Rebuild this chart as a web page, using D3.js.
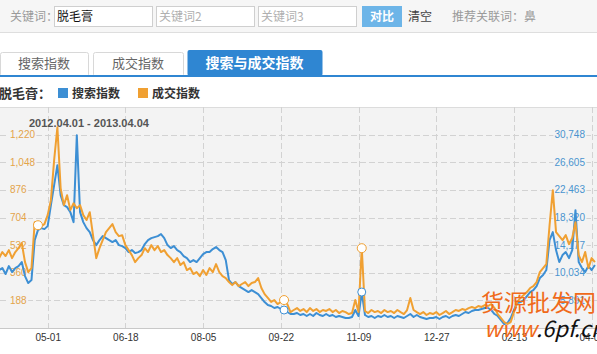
<!DOCTYPE html>
<html lang="zh">
<head>
<meta charset="UTF-8">
<title>脱毛膏 搜索与成交指数</title>
<script src="https://d3js.org/d3.v7.min.js"></script>
<style>
  body { margin: 0; background: #fff; overflow: hidden; }
  text { font-family: "Noto Sans CJK SC", "Liberation Sans", sans-serif; }
  .num { font-family: "Liberation Sans", Arial, sans-serif; }
</style>
</head>
<body>
<div id="chart"></div>
<script>
// one point every 2 days, starting 2012-04-01
const startDay = "2012-04-01";
const stepDays = 2;

// 成交指数 (left axis, orange)
const dealIndex = [
  451, 489, 464, 501, 451, 489, 513, 545, 426, 364, 389, 675, 656, 650, 663, 719,
  812, 1061, 1266, 887, 781, 843, 750, 793, 762, 781, 719, 688, 737, 594, 451, 513,
  563, 613, 638, 663, 613, 588, 594, 532, 501, 470, 426, 451, 470, 513, 489, 532,
  501, 526, 489, 501, 470, 451, 426, 451, 408, 426, 377, 389, 352, 364, 339, 377,
  346, 389, 364, 414, 364, 339, 327, 302, 283, 302, 277, 290, 302, 277, 296, 302,
  327, 265, 227, 203, 178, 190, 165, 178, 190, 165, 115, 128, 140, 122, 134, 115,
  140, 122, 134, 115, 128, 122, 134, 115, 128, 109, 122, 115, 103, 109, 190, 115,
  513, 122, 109, 128, 115, 122, 109, 128, 115, 122, 109, 128, 115, 103, 128, 203,
  128, 115, 103, 115, 97, 109, 103, 115, 97, 109, 122, 103, 115, 128, 122, 134,
  128, 140, 147, 140, 153, 147, 159, 153, 165, 140, 103, 78, 53, 41, 53, 115,
  178, 203, 221, 240, 265, 277, 302, 364, 389, 414, 656, 874, 613, 588, 563, 594,
  538, 576, 675, 470, 426, 489, 389, 451, 426
];

// 搜索指数 (right axis, blue)
const searchIndex = [
  10436, 10736, 9837, 11036, 10137, 10736, 11036, 11635, 9538, 8489, 8938, 14930, 16428, 16728, 16578, 17028,
  20173, 23169, 26165, 21671, 20173, 19874, 19125, 17627, 30659, 19125, 17627, 16728, 16129, 14930, 14181, 14930,
  15530, 15230, 14930, 14631, 14930, 14181, 14032, 13732, 13133, 13432, 12983, 13133, 13432, 14331, 14930, 15230,
  15380, 15530, 15829, 15230, 14181, 13732, 14032, 13432, 13133, 12534, 12234, 11635, 11934, 11635, 12234, 12833,
  13133, 13133, 13582, 13882, 13432, 13133, 11934, 8938, 8339, 8639, 8040, 7740, 7440, 7141, 7440, 7141,
  6841, 6242, 5643, 5193, 5044, 4744, 4894, 4594, 4444, 4145, 3845, 3845, 3995, 3695, 3845, 3546,
  3845, 3546, 3995, 3695, 3546, 3845, 3546, 3695, 3396, 3546, 3396, 3246, 3246, 3396, 4444, 3546,
  7141, 3695, 3396, 3546, 3246, 3546, 3396, 3695, 3396, 3546, 3246, 3546, 3396, 3246, 3546, 3845,
  3396, 3695, 3396, 3246, 3096, 3246, 3246, 3396, 3096, 3396, 3546, 3246, 3546, 3695, 3546, 3845,
  4145, 3995, 4295, 4444, 4444, 4594, 4744, 4744, 4444, 3845, 3546, 2946, 2347, 2497, 3246, 4444,
  5493, 5643, 5942, 6542, 7141, 7440, 8040, 9238, 9687, 10436, 14930, 16129, 13432, 11635, 12683, 13133,
  12234, 13432, 19424, 11635, 10736, 10137, 11036, 10436, 11185
];

// points that carry an event marker (index into the series)
const dealMarkers = [12, 88, 112];
const searchMarkers = [88, 112];

const xTickDates = ["2012-05-01", "2012-06-18", "2012-08-05", "2012-09-22", "2012-11-09", "2012-12-27", "2013-02-13", "2013-04-02"];
const leftTicks = [188, 360, 532, 704, 876, 1048, 1220];
const rightTicks = [5891, 10034, 14177, 18320, 22463, 26605, 30748];
const leftDomain = [16, 1392];
const rightDomain = [1748, 34891];
const dateRange = ["2012-04-01", "2013-04-04"];

const W = 597, H = 354;
const orange = "#f0a032", blue = "#3d8fd4";
const plot = { top: 107, bottom: 328 };

const parse = d3.timeParse("%Y-%m-%d");
const start = parse(startDay);
const data = dealIndex.map((v, i) => ({
  date: d3.timeDay.offset(start, i * stepDays),
  deal: v,
  search: searchIndex[i]
}));

const svg = d3.select("#chart").append("svg")
  .attr("width", W).attr("height", H);

// ---- search bar on top ----
svg.append("rect").attr("x", 0).attr("y", 0).attr("width", W).attr("height", 32).attr("fill", "#f6f6f6");
svg.append("line").attr("x1", 0).attr("x2", W).attr("y1", 32.5).attr("y2", 32.5).attr("stroke", "#dedede");
svg.append("text").attr("x", 10).attr("y", 21).attr("font-size", 12).attr("fill", "#9a9a9a").text("关键词：");
const inputs = [["脱毛膏", 54, "#111"], ["关键词2", 156, "#b0b0b0"], ["关键词3", 258, "#b0b0b0"]];
inputs.forEach(([t, x, c]) => {
  svg.append("rect").attr("x", x + 0.5).attr("y", 6.5).attr("width", 98).attr("height", 20)
    .attr("fill", "#fff").attr("stroke", "#cfcfcf");
  svg.append("text").attr("x", x + 3).attr("y", 21).attr("font-size", 12).attr("fill", c).text(t);
});
svg.append("rect").attr("x", 362).attr("y", 6).attr("width", 40).attr("height", 21).attr("fill", "#6db5e8");
svg.append("text").attr("x", 382).attr("y", 21).attr("text-anchor", "middle").attr("font-size", 12)
  .attr("font-weight", "bold").attr("fill", "#fff").text("对比");
svg.append("text").attr("x", 408).attr("y", 21).attr("font-size", 12).attr("fill", "#444").text("清空");
svg.append("text").attr("x", 452).attr("y", 21).attr("font-size", 12).attr("fill", "#9a9a9a").text("推荐关联词：鼻");

// ---- tabs ----
const tabs = [["搜索指数", 0, 88, false], ["成交指数", 93, 90, false], ["搜索与成交指数", 187, 135, true]];
tabs.forEach(([t, x, w, active]) => {
  svg.append("rect").attr("x", x + 0.5).attr("y", active ? 50 : 52.5).attr("width", w).attr("height", active ? 26 : 24)
    .attr("rx", 2).attr("fill", active ? "#2f86d2" : "#fff").attr("stroke", active ? "none" : "#d8d8d8");
  svg.append("text").attr("x", x + w / 2).attr("y", 68).attr("text-anchor", "middle")
    .attr("font-size", active ? 14 : 13).attr("font-weight", active ? "bold" : "normal")
    .attr("fill", active ? "#fff" : "#666").text(t);
});
svg.append("rect").attr("x", 0).attr("y", 75).attr("width", W).attr("height", 2).attr("fill", "#2f86d2");

// ---- legend ----
svg.append("text").attr("x", -1).attr("y", 98).attr("font-size", 13).attr("font-weight", "bold").attr("fill", "#333").text("脱毛膏：");
[["搜索指数", 58, blue], ["成交指数", 138, orange]].forEach(([t, x, c]) => {
  svg.append("rect").attr("x", x).attr("y", 88).attr("width", 10).attr("height", 10).attr("fill", c);
  svg.append("text").attr("x", x + 14).attr("y", 98).attr("font-size", 12).attr("font-weight", "bold").attr("fill", "#333").text(t);
});

// ---- scales ----
const x = d3.scaleTime().domain(dateRange.map(parse)).range([-0.9, 594.9]);
const yL = d3.scaleLinear().domain(leftDomain).range([plot.bottom, plot.top]);
const yR = d3.scaleLinear().domain(rightDomain).range([plot.bottom, plot.top]);

// plot background
svg.append("rect").attr("x", 0).attr("y", plot.top).attr("width", W).attr("height", plot.bottom - plot.top)
  .attr("fill", "#f3f3f3");
svg.append("line").attr("x1", 0).attr("x2", W).attr("y1", plot.top + 0.5).attr("y2", plot.top + 0.5).attr("stroke", "#dcdcdc");

// grid
const grid = svg.append("g").attr("stroke", "#d2d2d2").attr("stroke-dasharray", "6,3");
grid.selectAll("line.h").data(leftTicks).join("line").attr("class", "h")
  .attr("x1", 0).attr("x2", W).attr("y1", d => Math.round(yL(d)) + 0.5).attr("y2", d => Math.round(yL(d)) + 0.5);
grid.selectAll("line.v").data(xTickDates.map(parse)).join("line").attr("class", "v")
  .attr("x1", d => Math.round(x(d)) + 0.5).attr("x2", d => Math.round(x(d)) + 0.5)
  .attr("y1", plot.top).attr("y2", plot.bottom);

// x axis
const xAxis = svg.append("g").attr("transform", `translate(0,${plot.bottom})`)
  .call(d3.axisBottom(x).tickValues(xTickDates.map(parse)).tickFormat(d3.timeFormat("%m-%d")).tickSize(0).tickPadding(6));
xAxis.select(".domain").attr("stroke", "#c8c8c8").attr("d", `M0,0.5H${W}`);
xAxis.selectAll("text").attr("class", "num").attr("font-size", 10).attr("fill", "#333");

// axis labels inside the plot
function sideLabels(ticks, scale, color, anchor, xpos) {
  const g = svg.append("g");
  ticks.forEach(v => {
    const t = g.append("text").attr("class", "num").attr("x", xpos).attr("y", scale(v) + 3.5)
      .attr("text-anchor", anchor).attr("font-size", 10).attr("fill", color).text(d3.format(",")(v));
    const b = t.node().getBBox();
    g.insert("rect", "text").attr("x", b.x - 1).attr("y", scale(v) - 2).attr("width", b.width + 2).attr("height", 4)
      .attr("fill", "#f3f3f3");
  });
}
sideLabels(leftTicks, yL, "#e3a34a", "start", 10);
sideLabels(rightTicks, yR, "#4a94cf", "end", 585);

// date range caption
svg.append("text").attr("class", "num").attr("x", 29).attr("y", 127).attr("font-size", 11).attr("font-weight", "bold")
  .attr("fill", "#555").text("2012.04.01 - 2013.04.04");

// ---- lines ----
svg.append("clipPath").attr("id", "clip").append("rect")
  .attr("x", 0).attr("y", plot.top).attr("width", W).attr("height", plot.bottom - plot.top);
const lines = svg.append("g").attr("clip-path", "url(#clip)");
lines.append("path").datum(data).attr("fill", "none").attr("stroke", blue).attr("stroke-width", 2)
  .attr("stroke-linejoin", "round")
  .attr("d", d3.line().x(d => x(d.date)).y(d => yR(d.search)));
lines.append("path").datum(data).attr("fill", "none").attr("stroke", orange).attr("stroke-width", 2)
  .attr("stroke-linejoin", "round")
  .attr("d", d3.line().x(d => x(d.date)).y(d => yL(d.deal)));

lines.selectAll("circle.s").data(searchMarkers.map(i => data[i])).join("circle").attr("class", "s")
  .attr("cx", d => x(d.date)).attr("cy", d => yR(d.search)).attr("r", 4)
  .attr("fill", "#fff").attr("stroke", blue).attr("stroke-width", 1);
lines.selectAll("circle.d").data(dealMarkers.map(i => data[i])).join("circle").attr("class", "d")
  .attr("cx", d => x(d.date)).attr("cy", d => yL(d.deal)).attr("r", 4.5)
  .attr("fill", "#fff").attr("stroke", orange).attr("stroke-width", 1);

// ---- watermark ----
svg.append("text").attr("x", 481).attr("y", 311).attr("font-size", 23).attr("fill", "#f06a1a").text("货源批发网");
const wm = svg.append("text").attr("x", 484).attr("y", 337).attr("font-size", 22).attr("font-style", "italic");
wm.append("tspan").attr("fill", "#f06a1a").text("www");
wm.append("tspan").attr("fill", "#111").text(".6pf.cn");
</script>
</body>
</html>
